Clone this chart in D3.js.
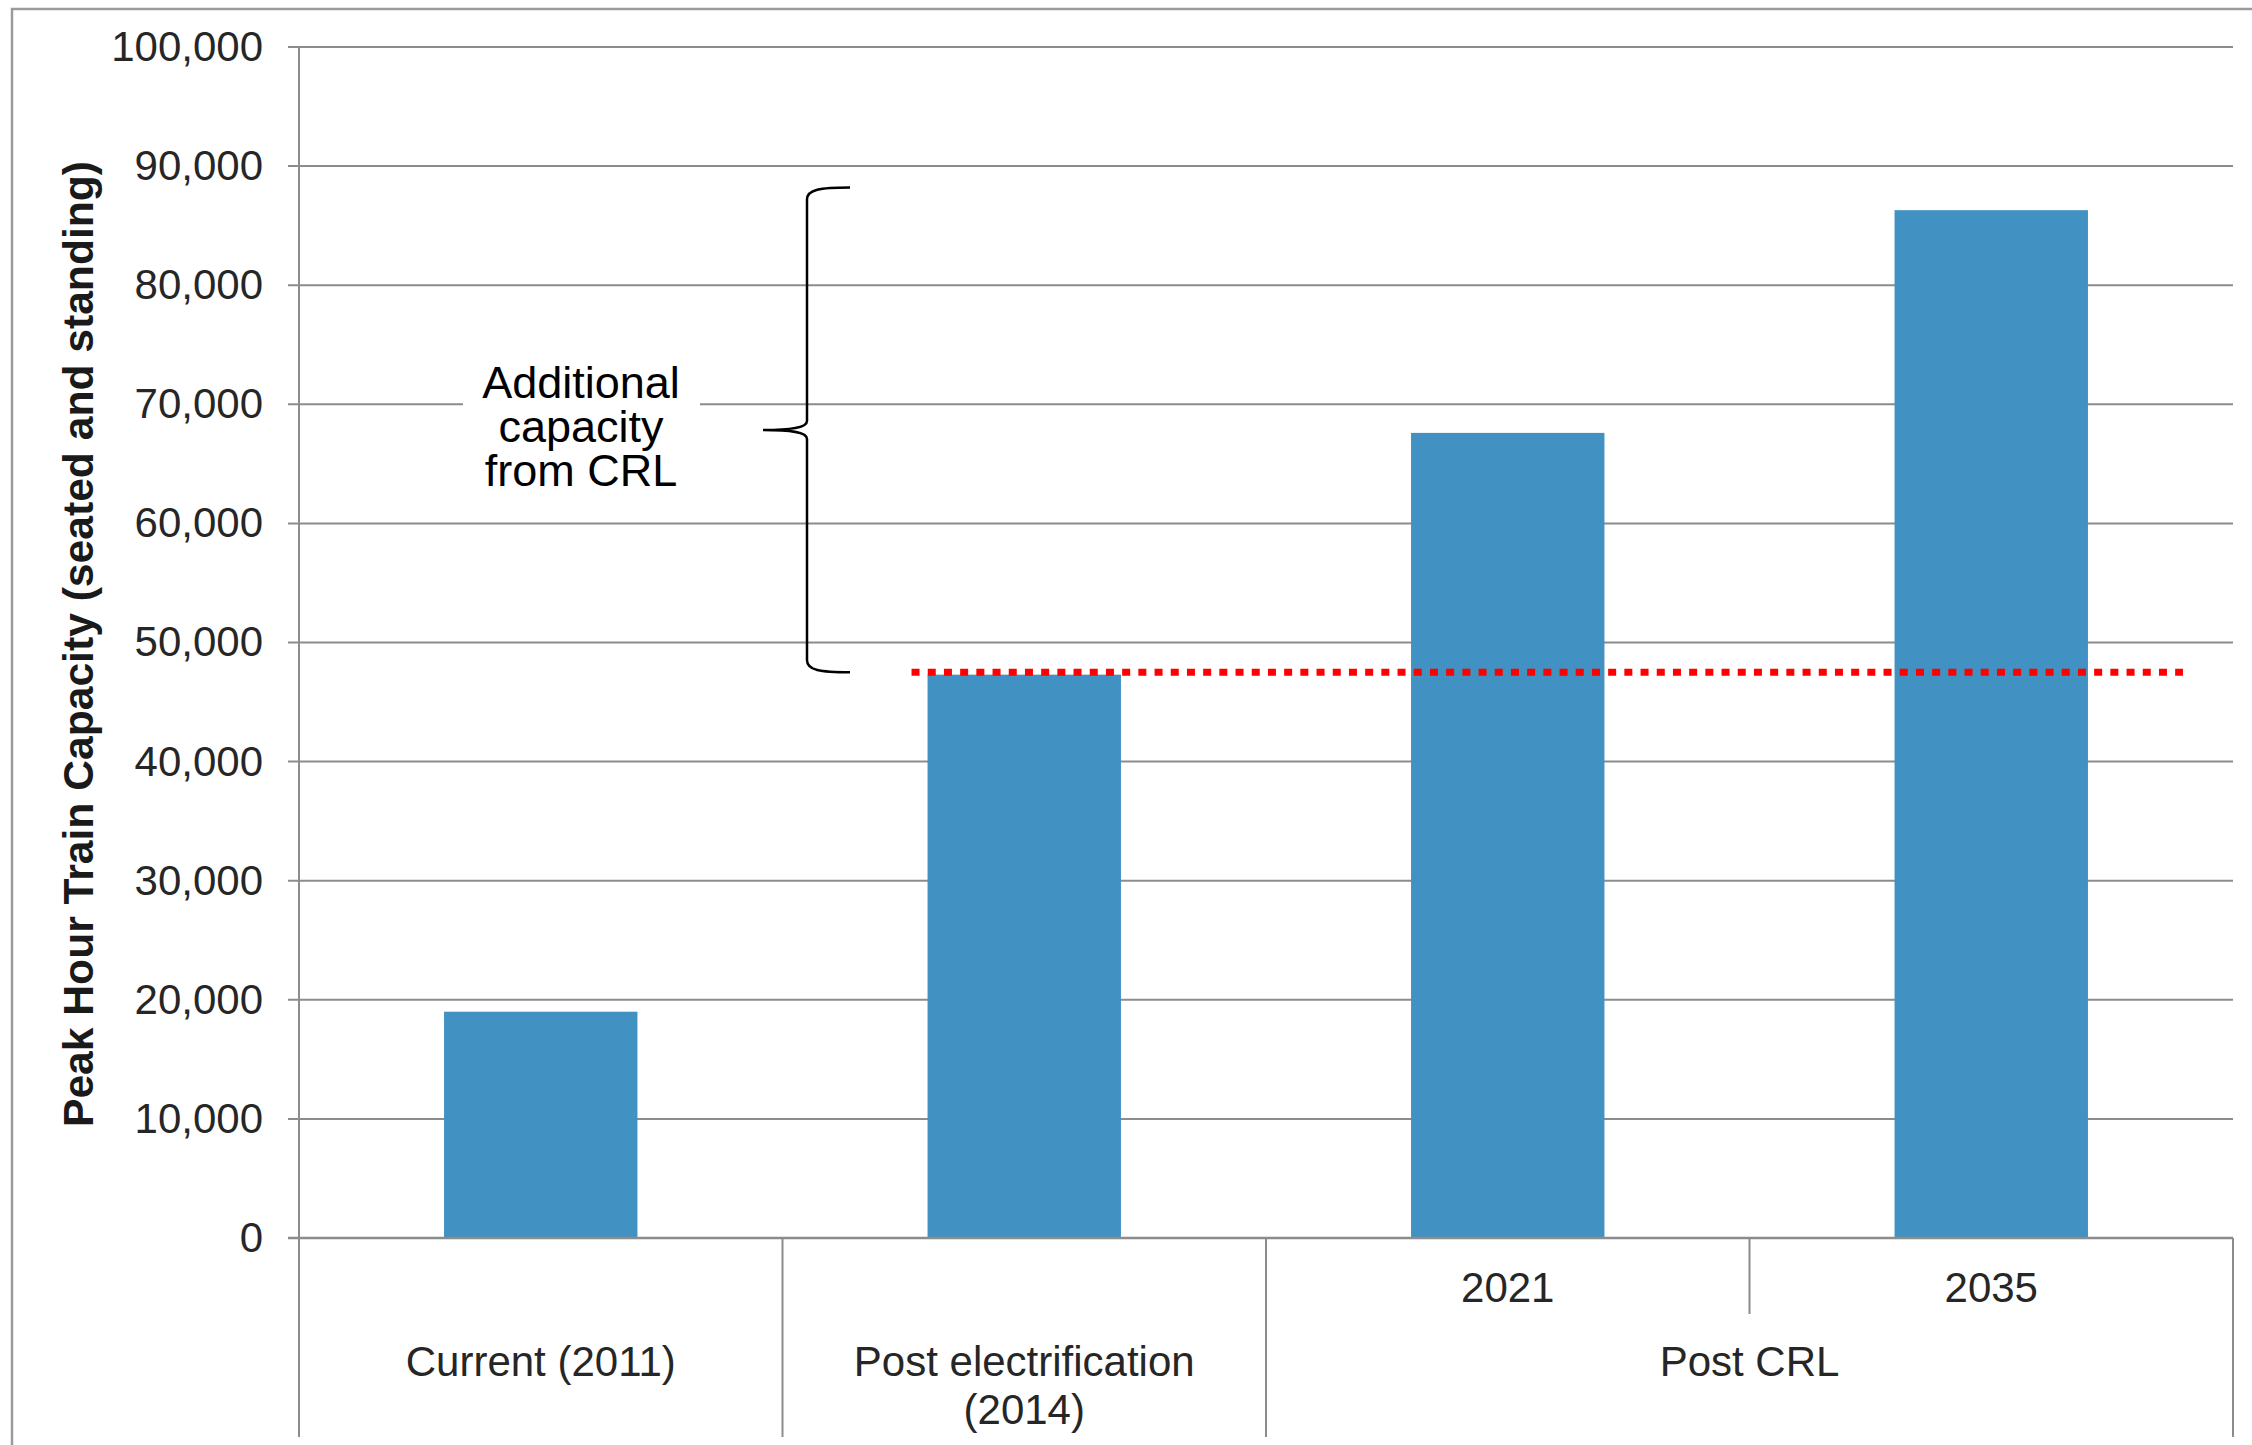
<!DOCTYPE html>
<html>
<head>
<meta charset="utf-8">
<script src="https://cdn.jsdelivr.net/npm/d3@7"></script>
<style>
  html, body { margin: 0; padding: 0; background: #fff; }
  svg { display: block; }
</style>
</head>
<body>
<svg id="chart" width="2252" height="1445"></svg>
<script>
// Peak hour train capacity by stage
const categories = ["Current (2011)", "Post electrification (2014)", "Post CRL 2021", "Post CRL 2035"];
const capacity = [19000, 47300, 67600, 86300];
const subLabels = ["", "", "2021", "2035"];
const groupLabels = [["Current (2011)"], ["Post electrification", "(2014)"], ["Post CRL"]];
const groupIndex = [0, 1, 2, 2];
const yTicks = [0, 10000, 20000, 30000, 40000, 50000, 60000, 70000, 80000, 90000, 100000];
const yTitle = "Peak Hour Train Capacity (seated and standing)";
const baselineLevel = 47500;          // capacity after electrification (dotted reference)
const braceRange = [47500, 88200];    // span of the "additional capacity" brace
const noteLines = ["Additional", "capacity", "from CRL"];

const FONT = "'Liberation Sans', Arial, Helvetica, sans-serif";
const GRID = "#8c8c8c";
const TEXT = "#262626";
const BAR = "#4191c2";

const svg = d3.select("#chart");
const plotLeft = 299, plotRight = 2233, plotTop = 47, plotBottom = 1238, axisFoot = 1437;

const y = d3.scaleLinear().domain([0, 100000]).range([plotBottom, plotTop]);
const x = d3.scaleBand().domain(categories).range([plotLeft, plotRight])
  .paddingInner(0.6).paddingOuter(0.3);
const step = x.step();
const bandStart = c => x(c) - x.paddingInner() * step / 2;

// outer frame
svg.append("path")
  .attr("d", `M12,${1445 + 5} L12,9 L${2252 + 5},9`)
  .attr("fill", "none").attr("stroke", "#9a9a9a").attr("stroke-width", 2.5);

// gridlines
svg.append("g").selectAll("line").data(yTicks).join("line")
  .attr("x1", plotLeft - 11).attr("x2", plotRight)
  .attr("y1", d => y(d)).attr("y2", d => y(d))
  .attr("stroke", GRID).attr("stroke-width", 2);

// y axis labels
const yAxis = svg.append("g")
  .attr("transform", `translate(${plotLeft},0)`)
  .call(d3.axisLeft(y).tickValues(yTicks).tickFormat(d3.format(",")).tickSize(0).tickPadding(36));
yAxis.select(".domain").remove();
yAxis.selectAll("text")
  .attr("font-family", FONT).attr("font-size", 42).attr("fill", TEXT);

// y axis title
svg.append("text")
  .attr("transform", `translate(93,${(161 + 1127) / 2}) rotate(-90)`)
  .attr("text-anchor", "middle")
  .attr("font-family", FONT).attr("font-size", 42).attr("font-weight", "bold")
  .attr("fill", "#1a1a1a")
  .attr("textLength", 966).attr("lengthAdjust", "spacingAndGlyphs")
  .text(yTitle);

// annotation text with white backing over the gridline
svg.append("rect").attr("x", 463).attr("y", 350).attr("width", 237).attr("height", 148).attr("fill", "#fff");
svg.append("text")
  .attr("x", 581).attr("y", 398)
  .attr("text-anchor", "middle")
  .attr("font-family", FONT).attr("font-size", 45).attr("fill", "#000")
  .selectAll("tspan").data(noteLines).join("tspan")
  .attr("x", 581).attr("dy", (d, i) => i === 0 ? 0 : 44)
  .text(d => d);

// bars
svg.append("g").selectAll("rect").data(categories).join("rect")
  .attr("x", d => x(d))
  .attr("width", x.bandwidth())
  .attr("y", (d, i) => y(capacity[i]))
  .attr("height", (d, i) => y(0) - y(capacity[i]))
  .attr("fill", BAR);

// baseline and left axis line
svg.append("line").attr("x1", plotLeft - 11).attr("x2", plotRight).attr("y1", y(0)).attr("y2", y(0))
  .attr("stroke", GRID).attr("stroke-width", 2.5);
svg.append("line").attr("x1", plotLeft).attr("x2", plotLeft).attr("y1", plotTop).attr("y2", axisFoot)
  .attr("stroke", GRID).attr("stroke-width", 2);

// category dividers: full height between groups, short inside a group
const bounds = categories.map((c, i) => ({
  x: bandStart(c),
  full: i === 0 || groupIndex[i] !== groupIndex[i - 1]
}));
bounds.push({ x: plotRight, full: true });
svg.append("g").selectAll("line").data(bounds).join("line")
  .attr("x1", d => d.x).attr("x2", d => d.x)
  .attr("y1", y(0)).attr("y2", d => d.full ? axisFoot : 1314)
  .attr("stroke", GRID).attr("stroke-width", 2);

// inner category labels
svg.append("g").selectAll("text").data(categories).join("text")
  .attr("x", d => x(d) + x.bandwidth() / 2)
  .attr("y", 1302)
  .attr("text-anchor", "middle")
  .attr("font-family", FONT).attr("font-size", 42).attr("fill", TEXT)
  .text((d, i) => subLabels[i]);

// group labels
groupLabels.forEach((lines, g) => {
  const members = categories.filter((c, i) => groupIndex[i] === g);
  const x0 = bandStart(members[0]);
  const x1 = bandStart(members[members.length - 1]) + step;
  const cx = (x0 + x1) / 2;
  svg.append("text")
    .attr("x", cx).attr("y", 1376)
    .attr("text-anchor", "middle")
    .attr("font-family", FONT).attr("font-size", 42).attr("fill", TEXT)
    .selectAll("tspan").data(lines).join("tspan")
    .attr("x", cx).attr("dy", (d, i) => i === 0 ? 0 : 48)
    .text(d => d);
});

// dotted reference line at post-electrification capacity
svg.append("line")
  .attr("x1", x(categories[1]) - 16)
  .attr("x2", x(categories[3]) + x.bandwidth() + 95)
  .attr("y1", y(baselineLevel)).attr("y2", y(baselineLevel))
  .attr("stroke", "#ff0000").attr("stroke-width", 7)
  .attr("stroke-dasharray", "8 8.2");

// curly brace marking the additional capacity
const bx = 807, armX = 850, tipX = 763;
const bTop = y(braceRange[1]), bBot = y(braceRange[0]), bMid = (bTop + bBot) / 2;
const brace = d3.path();
brace.moveTo(armX, bTop);
brace.bezierCurveTo(820, bTop, bx, bTop + 2, bx, bTop + 12);
brace.lineTo(bx, bMid - 9);
brace.bezierCurveTo(bx, bMid - 2, 790, bMid, tipX, bMid);
brace.bezierCurveTo(790, bMid, bx, bMid + 2, bx, bMid + 9);
brace.lineTo(bx, bBot - 12);
brace.bezierCurveTo(bx, bBot - 2, 820, bBot, armX, bBot);
svg.append("path").attr("d", brace.toString())
  .attr("fill", "none").attr("stroke", "#000").attr("stroke-width", 2.5);
</script>
</body>
</html>
